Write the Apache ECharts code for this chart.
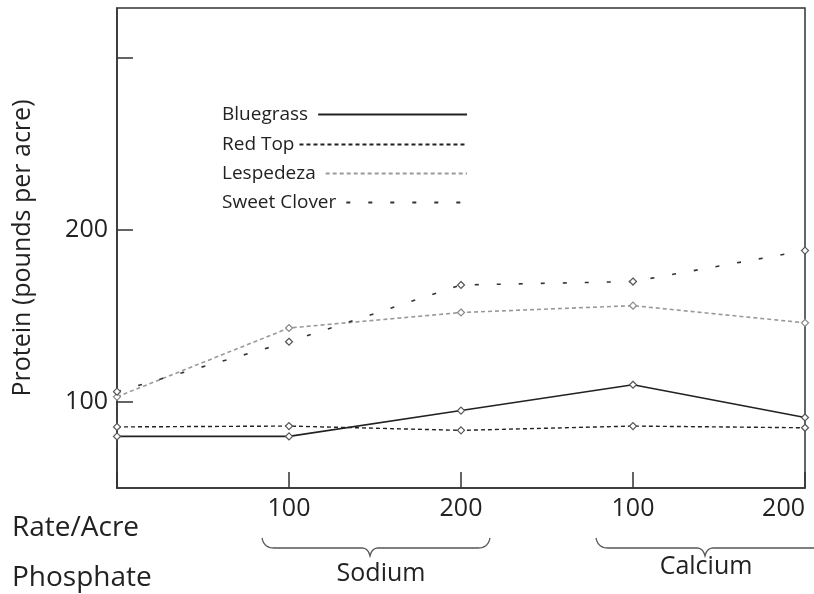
<!DOCTYPE html>
<html>
<head>
<meta charset="utf-8">
<script src="https://cdn.jsdelivr.net/npm/echarts@6/dist/echarts.min.js"></script>
<style>
html,body{margin:0;padding:0;background:#fff;}
#chart{width:814px;height:594px;}
</style>
</head>
<body>
<div id="chart"></div>
<script>
// ---- data ----
var rateLabels = ["", "100", "200", "100", "200"];
var phosphateGroups = ["", "Sodium", "Sodium", "Calcium", "Calcium"];
var categories = ["0", "Sodium 100", "Sodium 200", "Calcium 100", "Calcium 200"];
var bluegrass = [80, 80, 95, 110, 91];
var redTop = [85.5, 86, 83.5, 86, 85];
var lespedeza = [103, 143, 152, 156, 146];
var sweetClover = [106, 135, 168, 170, 188];
var yTickValues = [100, 200, 300];
var yLabelValues = [100, 200];
var seriesNames = ["Bluegrass", "Red Top", "Lespedeza", "Sweet Clover"];

var FONT = "'Open Sans', 'Noto Sans', sans-serif";
var chart = echarts.init(document.getElementById('chart'), null, {renderer: 'canvas'});

var styles = {
  "Bluegrass": {color: '#222', type: 'solid', width: 1.6},
  "Red Top": {color: '#222', type: [4, 3], width: 1.4},
  "Lespedeza": {color: '#999', type: [4, 3], width: 1.6},
  "Sweet Clover": {color: '#333', type: [4, 18], width: 1.6}
};
var values = {"Bluegrass": bluegrass, "Red Top": redTop, "Lespedeza": lespedeza, "Sweet Clover": sweetClover};

var cv = document.createElement('canvas').getContext('2d');
var legendFontSize = 19;
cv.font = legendFontSize + "px " + FONT;
var legendLeft = 222, legendEnd = 467, legendTops = [105, 135, 164, 193];

var legends = seriesNames.map(function (n, i) {
  var tw = cv.measureText(n).width;
  var gapAdj = (n === "Red Top") ? 0 : 5;
  return {
    data: [n],
    left: legendLeft,
    top: legendTops[i],
    align: 'right',
    itemWidth: Math.max(10, legendEnd - legendLeft - tw - 5 - gapAdj),
    itemHeight: 18,
    padding: 0,
    selectedMode: false,
    itemStyle: {opacity: 0},
    textStyle: {fontFamily: FONT, fontSize: legendFontSize, color: '#222', padding: [0, gapAdj, 0, 0]}
  };
});

var series = seriesNames.map(function (n) {
  var s = styles[n];
  return {
    name: n,
    type: 'line',
    data: values[n],
    symbol: 'diamond',
    symbolSize: 7,
    showSymbol: true,
    itemStyle: {color: '#fff', borderColor: s.color === '#999' ? '#888' : '#555', borderWidth: 1.2},
    lineStyle: {color: s.color, type: s.type, width: s.width},
    emphasis: {disabled: true},
    animation: false
  };
});

// brace outline (decoration) as polyline points
function brace(x0, xm, x1, yTop, yMid, yTip, openRight) {
  var pts = [];
  function quad(p0, c, p1) {
    for (var t = 0; t <= 1.0001; t += 0.1) {
      var a = (1 - t) * (1 - t), b = 2 * (1 - t) * t, d = t * t;
      pts.push([a * p0[0] + b * c[0] + d * p1[0], a * p0[1] + b * c[1] + d * p1[1]]);
    }
  }
  quad([x0, yTop], [x0 + 2, yMid], [x0 + 12, yMid]);
  quad([xm - 8, yMid], [xm - 2, yMid], [xm, yTip]);
  quad([xm, yTip], [xm + 2, yMid], [xm + 8, yMid]);
  if (openRight) {
    pts.push([x1, yMid]);
  } else {
    quad([x1 - 12, yMid], [x1 - 2, yMid], [x1, yTop]);
  }
  return pts;
}

var option = {
  animation: false,
  backgroundColor: '#fff',
  grid: {left: 117, right: 9, top: 8, bottom: 106, containLabel: false, outerBoundsMode: 'none',
    show: true, borderColor: '#333', borderWidth: 1.5, backgroundColor: 'transparent'},
  legend: legends,
  xAxis: {
    type: 'category',
    data: categories,
    boundaryGap: false,
    axisLine: {lineStyle: {color: '#333', width: 1.5}},
    axisTick: {show: true, inside: true, length: 16, lineStyle: {color: '#333', width: 1.5}},
    axisLabel: {
      show: true, margin: 8, fontFamily: FONT, fontSize: 25, color: '#222',
      formatter: function (v, i) { return rateLabels[i]; },
      showMinLabel: true, showMaxLabel: true, interval: 0, hideOverlap: false,
      alignMaxLabel: 'right'
    },
    splitLine: {show: false}
  },
  yAxis: {
    type: 'value',
    min: 50,
    max: 329,
    name: 'Protein (pounds per acre)',
    nameLocation: 'middle',
    nameGap: 82,
    nameTextStyle: {fontFamily: FONT, fontSize: 25, color: '#222'},
    axisLine: {show: true, lineStyle: {color: '#333', width: 1.5}},
    axisTick: {show: true, inside: true, length: 16, customValues: yTickValues, lineStyle: {color: '#333', width: 1.5}},
    axisLabel: {show: true, customValues: yLabelValues, margin: 9, fontFamily: FONT, fontSize: 25, color: '#222'},
    splitLine: {show: false}
  },
  series: series,
  graphic: [
    {type: 'text', x: 12, y: 528, style: {text: 'Rate/Acre', font: '28px ' + FONT, fill: '#222', verticalAlign: 'middle'}},
    {type: 'text', x: 12, y: 578, style: {text: 'Phosphate', font: '28px ' + FONT, fill: '#222', verticalAlign: 'middle'}},
    {type: 'text', x: 381, y: 574, style: {text: 'Sodium', font: '25px ' + FONT, fill: '#222', align: 'center', verticalAlign: 'middle'}},
    {type: 'text', x: 706, y: 567, style: {text: 'Calcium', font: '25px ' + FONT, fill: '#222', align: 'center', verticalAlign: 'middle'}},
    {type: 'polyline', shape: {points: brace(262, 370, 490, 538, 548, 556, false)},
      style: {fill: null, stroke: '#555', lineWidth: 1.3}},
    {type: 'polyline', shape: {points: brace(596, 705, 816, 538, 548, 556, true)},
      style: {fill: null, stroke: '#555', lineWidth: 1.3}}
  ]
};
chart.setOption(option);
</script>
</body>
</html>
